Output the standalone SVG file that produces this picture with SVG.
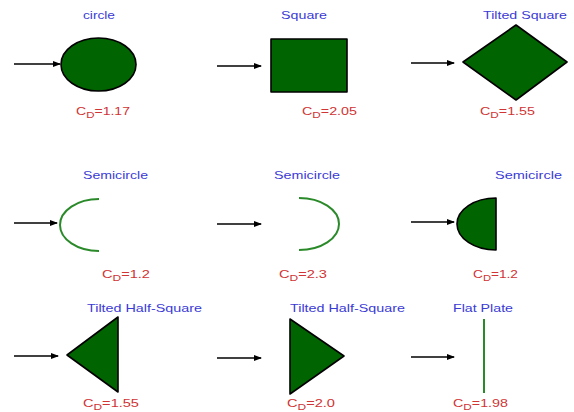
<svg xmlns="http://www.w3.org/2000/svg" width="574" height="412" viewBox="0 0 574 412">
<style>
.t{font-family:"Liberation Sans",Arial,sans-serif;font-size:10.5px;fill:#3b3bd6}
.cd{font-family:"Liberation Sans",Arial,sans-serif;font-size:11px;fill:#d03434}
.sub{font-size:9px}
.solid{fill:#006400;stroke:#000;stroke-width:1.6;stroke-linejoin:round}
.arc{fill:none;stroke:#2a8a2a;stroke-width:2}
.ar{stroke:#000;stroke-width:1.4;fill:none;marker-end:url(#ah)}
</style>
<defs>
<marker id="ah" markerWidth="8" markerHeight="6" refX="7" refY="3" orient="auto" markerUnits="userSpaceOnUse">
<path d="M0,0 L8,3 L0,6 Z" fill="#000"/>
</marker>
</defs>
<g id="connectors">
<line class="ar" x1="14" y1="64" x2="60" y2="64"/>
<line class="ar" x1="217" y1="66" x2="261" y2="66"/>
<line class="ar" x1="411" y1="63" x2="454" y2="63"/>
<line class="ar" x1="14" y1="223" x2="57" y2="223"/>
<line class="ar" x1="217" y1="224" x2="261" y2="224"/>
<line class="ar" x1="411" y1="222" x2="454" y2="222"/>
<line class="ar" x1="14" y1="356" x2="58" y2="356"/>
<line class="ar" x1="217" y1="358" x2="261" y2="358"/>
<line class="ar" x1="411" y1="357" x2="454" y2="357"/>
</g>
<g id="circle">
<text class="t" x="83" y="19" textLength="32" lengthAdjust="spacingAndGlyphs">circle</text>
<ellipse class="solid" cx="98.5" cy="64.5" rx="37.5" ry="26.5"/>
<text class="cd" x="76" y="115" textLength="54" lengthAdjust="spacingAndGlyphs">C<tspan class="sub" dy="2.5">D</tspan><tspan dy="-2.5">=1.17</tspan></text>
</g>
<g id="square">
<text class="t" x="281" y="19" textLength="46" lengthAdjust="spacingAndGlyphs">Square</text>
<rect class="solid" x="271" y="39" width="76" height="53"/>
<text class="cd" x="302" y="115" textLength="55" lengthAdjust="spacingAndGlyphs">C<tspan class="sub" dy="2.5">D</tspan><tspan dy="-2.5">=2.05</tspan></text>
</g>
<g id="tilted-square">
<text class="t" x="483" y="19" textLength="84" lengthAdjust="spacingAndGlyphs">Tilted Square</text>
<polygon class="solid" points="463,62 516,25 567,62 516,100"/>
<text class="cd" x="480" y="115" textLength="55" lengthAdjust="spacingAndGlyphs">C<tspan class="sub" dy="2.5">D</tspan><tspan dy="-2.5">=1.55</tspan></text>
</g>
<g id="semicircle-1">
<text class="t" x="83" y="179" textLength="65" lengthAdjust="spacingAndGlyphs">Semicircle</text>
<path class="arc" d="M99,199 A39,26 0 0 0 99,251"/>
<text class="cd" x="102" y="278" textLength="48" lengthAdjust="spacingAndGlyphs">C<tspan class="sub" dy="2.5">D</tspan><tspan dy="-2.5">=1.2</tspan></text>
</g>
<g id="semicircle-2">
<text class="t" x="274" y="179" textLength="66" lengthAdjust="spacingAndGlyphs">Semicircle</text>
<path class="arc" d="M299,198 A40,26 0 0 1 299,250"/>
<text class="cd" x="279" y="278" textLength="48" lengthAdjust="spacingAndGlyphs">C<tspan class="sub" dy="2.5">D</tspan><tspan dy="-2.5">=2.3</tspan></text>
</g>
<g id="semicircle-3">
<text class="t" x="495" y="179" textLength="67" lengthAdjust="spacingAndGlyphs">Semicircle</text>
<path class="solid" d="M496,198 A39,26 0 0 0 496,250 Z"/>
<text class="cd" x="473" y="278" textLength="45" lengthAdjust="spacingAndGlyphs">C<tspan class="sub" dy="2.5">D</tspan><tspan dy="-2.5">=1.2</tspan></text>
</g>
<g id="tilted-half-square-1">
<text class="t" x="87" y="312" textLength="115" lengthAdjust="spacingAndGlyphs">Tilted Half-Square</text>
<polygon class="solid" points="67,355 118,317 118,392"/>
<text class="cd" x="83" y="407" textLength="56" lengthAdjust="spacingAndGlyphs">C<tspan class="sub" dy="2.5">D</tspan><tspan dy="-2.5">=1.55</tspan></text>
</g>
<g id="tilted-half-square-2">
<text class="t" x="290" y="312" textLength="115" lengthAdjust="spacingAndGlyphs">Tilted Half-Square</text>
<polygon class="solid" points="290,319 344,356 290,394"/>
<text class="cd" x="287" y="407" textLength="48" lengthAdjust="spacingAndGlyphs">C<tspan class="sub" dy="2.5">D</tspan><tspan dy="-2.5">=2.0</tspan></text>
</g>
<g id="flat-plate">
<text class="t" x="453" y="312" textLength="60" lengthAdjust="spacingAndGlyphs">Flat Plate</text>
<line x1="484" y1="319" x2="484" y2="393" stroke="#2a8a2a" stroke-width="2"/>
<text class="cd" x="453" y="407" textLength="55" lengthAdjust="spacingAndGlyphs">C<tspan class="sub" dy="2.5">D</tspan><tspan dy="-2.5">=1.98</tspan></text>
</g>
</svg>
